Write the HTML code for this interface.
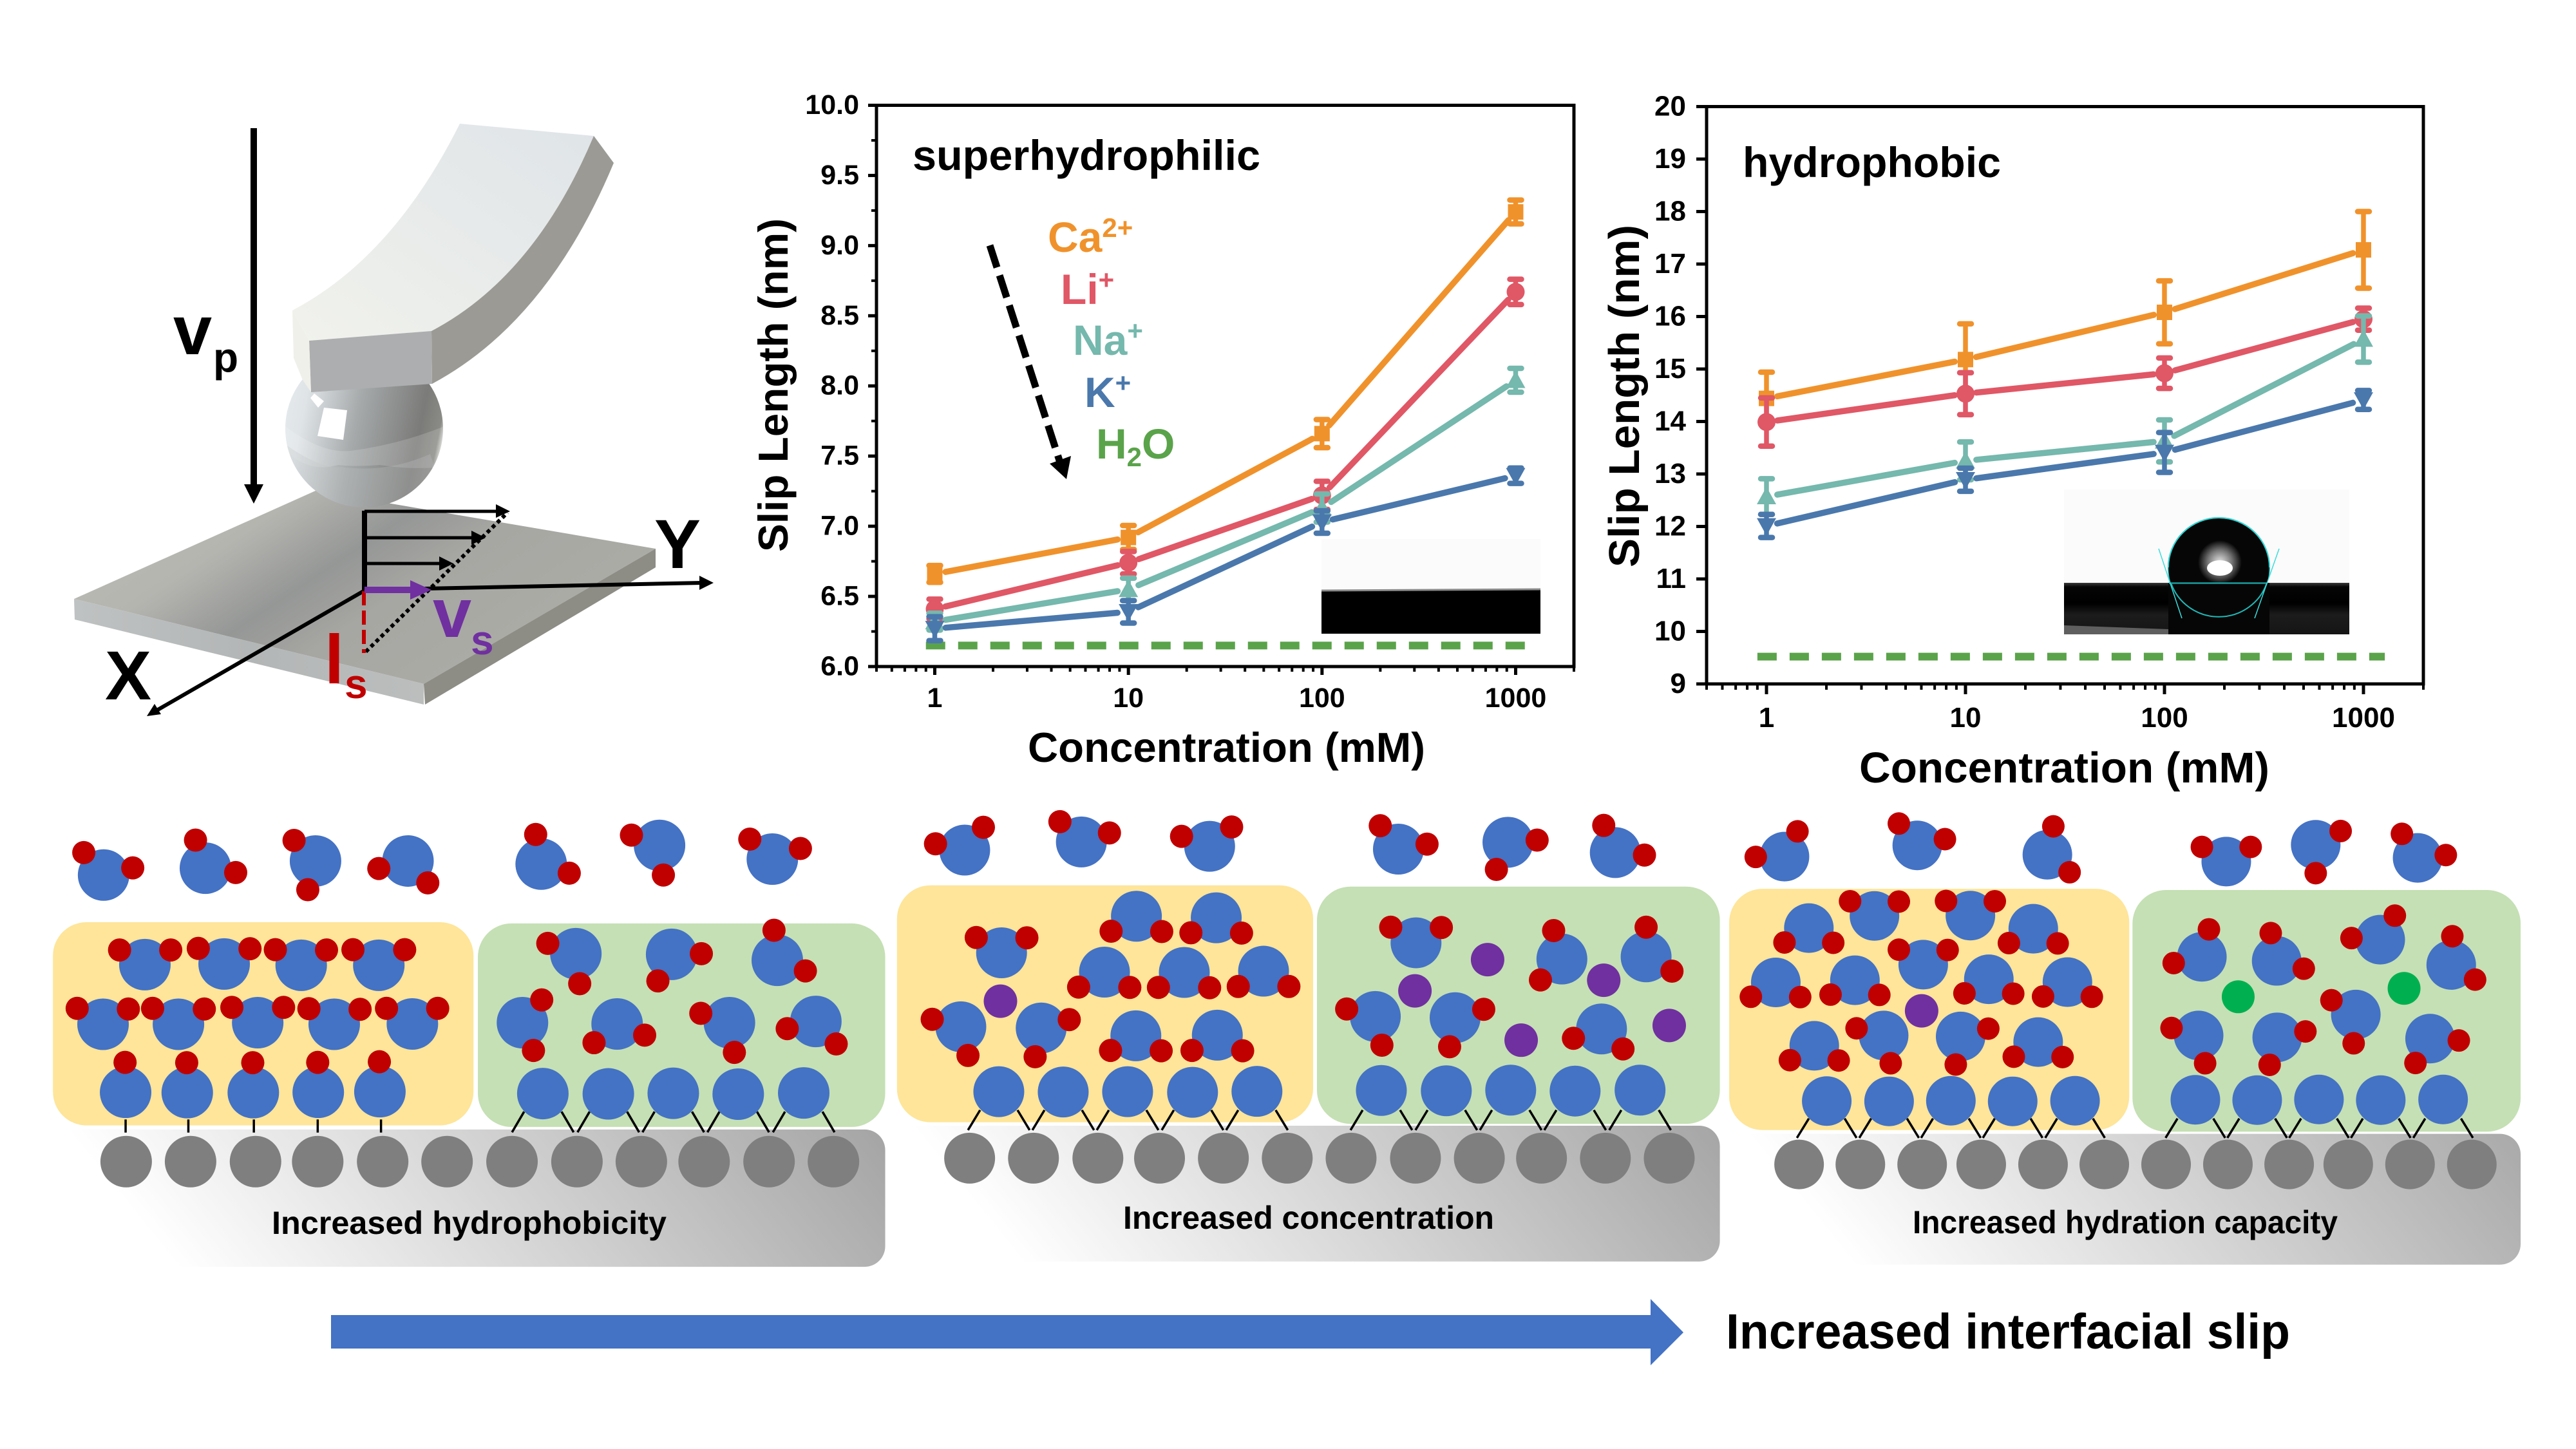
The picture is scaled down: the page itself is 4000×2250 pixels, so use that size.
<!DOCTYPE html>
<html lang="en">
<head>
<meta charset="utf-8">
<title>Interfacial slip figure</title>
<style>
html,body{margin:0;padding:0;background:#fff;}
svg{display:block;}
text{font-family:"Liberation Sans",Arial,sans-serif;font-weight:bold;fill:#000;}
</style>
</head>
<body>
<svg id="figure" xmlns="http://www.w3.org/2000/svg" width="4000" height="2250" viewBox="0 0 4000 2250">
<defs>
<linearGradient id="plateGrad" x1="0" y1="0.1" x2="1" y2="0.6"><stop offset="0" stop-color="#bdbdb7"/><stop offset="0.28" stop-color="#b5b5b0"/><stop offset="0.47" stop-color="#959796"/><stop offset="0.62" stop-color="#a6a6a2"/><stop offset="1" stop-color="#aeaea8"/></linearGradient>
<linearGradient id="plateFront" x1="0" y1="0" x2="1" y2="0"><stop offset="0" stop-color="#bfc2c2"/><stop offset="0.5" stop-color="#b3b6b6"/><stop offset="1" stop-color="#bcbebe"/></linearGradient>
<linearGradient id="beamTop" x1="0" y1="1" x2="1" y2="0"><stop offset="0" stop-color="#f1f2ec"/><stop offset="1" stop-color="#dfe4e8"/></linearGradient>
<linearGradient id="ballGrad" x1="0" y1="0.35" x2="1" y2="0.55"><stop offset="0" stop-color="#e4e9ec"/><stop offset="0.12" stop-color="#dfe4e7"/><stop offset="0.45" stop-color="#a6aaab"/><stop offset="0.85" stop-color="#7b7b79"/><stop offset="0.97" stop-color="#8a8a86"/><stop offset="1" stop-color="#cfcfca"/></linearGradient>
<clipPath id="ballClip"><circle cx="565.5" cy="665.5" r="122.5"/></clipPath>
<linearGradient id="baseGrad0" gradientUnits="userSpaceOnUse" x1="199" y1="1872.5" x2="979" y2="1242.5"><stop offset="0" stop-color="#ffffff"/><stop offset="1" stop-color="#a3a3a3"/></linearGradient>
<linearGradient id="baseGrad1" gradientUnits="userSpaceOnUse" x1="1510" y1="1864.5" x2="2290" y2="1234.5"><stop offset="0" stop-color="#ffffff"/><stop offset="1" stop-color="#a3a3a3"/></linearGradient>
<linearGradient id="baseGrad2" gradientUnits="userSpaceOnUse" x1="2802" y1="1869.5" x2="3582" y2="1239.5"><stop offset="0" stop-color="#ffffff"/><stop offset="1" stop-color="#a3a3a3"/></linearGradient>
<linearGradient id="hydroSubstrate" x1="0" y1="0" x2="0" y2="1"><stop offset="0" stop-color="#3a3a3a"/><stop offset="0.08" stop-color="#050505"/><stop offset="0.4" stop-color="#000"/><stop offset="0.62" stop-color="#1c1c1c"/><stop offset="1" stop-color="#151515"/></linearGradient>
<radialGradient id="dropGlow"><stop offset="0" stop-color="#fff" stop-opacity="0.9"/><stop offset="0.55" stop-color="#fff" stop-opacity="0.45"/><stop offset="1" stop-color="#fff" stop-opacity="0"/></radialGradient>
</defs>

<g>
<polygon points="115,930 490,762 1018,852 658,1062" fill="url(#plateGrad)"/>
<polygon points="115,930 658,1062 658,1094 116,962" fill="url(#plateFront)"/>
<polygon points="658,1062 1018,852 1018,881 660,1094" fill="#8d8c85"/>
<circle cx="565.5" cy="665.5" r="122.5" fill="url(#ballGrad)"/>
<g clip-path="url(#ballClip)">
<path d="M443,662 Q500,705 545,700 Q620,690 690,662 L690,725 Q640,730 590,722 Q550,725 525,722 Q480,735 443,700 Z" fill="#fff" opacity="0.16"/>
<path d="M443,690 Q500,730 530,725 Q600,735 668,705 L700,800 L430,800 Z" fill="#c2c4c4" opacity="0.28"/>
</g>
<polygon points="503,633 539,637 533,683 493,677" fill="#fff"/>
<polygon points="488,611 503,623 494,633 482,618" fill="#fff"/>
<path d="M714,192 L922,211 Q830,430 670,514 L480,529 L454,482 Q610,400 714,192 Z" fill="url(#beamTop)"/>
<path d="M922,211 L953,253 Q850,500 671,596 L670,514 Q830,430 922,211 Z" fill="#9b9a94"/>
<polygon points="480,529 670,514 671,596 483,609" fill="#adaeb0"/>
<polygon points="454,482 480,529 483,609 470,590 456,556" fill="#f0f0ea"/>

<line x1="394" y1="199" x2="394" y2="755" stroke="#000" stroke-width="10"/>
<polygon points="379,752 409,752 394,782" fill="#000"/>
<text x="269" y="550" font-size="108">v</text>
<text x="331" y="577" font-size="64">p</text>

<line x1="566" y1="793" x2="566" y2="916" stroke="#000" stroke-width="8"/>
<line x1="566" y1="794" x2="775" y2="794" stroke="#000" stroke-width="5"/>
<polygon points="770,783 792,794 770,804" fill="#000"/>
<line x1="566" y1="835" x2="735" y2="835" stroke="#000" stroke-width="5"/>
<polygon points="732,824 754,835 732,846" fill="#000"/>
<line x1="566" y1="875" x2="685" y2="875" stroke="#000" stroke-width="5"/>
<polygon points="682,864 704,875 682,886" fill="#000"/>
<line x1="568" y1="1012" x2="788" y2="796" stroke="#000" stroke-width="6" stroke-dasharray="6 5"/>
<line x1="566" y1="916" x2="1090" y2="905" stroke="#000" stroke-width="6"/>
<polygon points="1086,894 1108,905 1086,916" fill="#000"/>
<line x1="566" y1="917" x2="240" y2="1105" stroke="#000" stroke-width="6"/>
<polygon points="228,1112 240,1093 250,1109" fill="#000"/>
<line x1="565" y1="918" x2="565" y2="1014" stroke="#c00000" stroke-width="6" stroke-dasharray="22 8"/>
<line x1="566" y1="916" x2="645" y2="916" stroke="#7030a0" stroke-width="10"/>
<polygon points="637,901 670,916 637,931" fill="#7030a0"/>
<text x="1052" y="882" font-size="108" text-anchor="middle">Y</text>
<text x="199" y="1086" font-size="108" text-anchor="middle">X</text>
<text x="672" y="989" font-size="108" style="fill:#7030a0">v</text>
<text x="731" y="1016" font-size="64" style="fill:#7030a0">s</text>
<text x="504" y="1061" font-size="108" style="fill:#c00000">l</text>
<text x="535" y="1084" font-size="64" style="fill:#c00000">s</text>
</g>

<g id="chart-super">
<g id="super-inset">
<rect x="2052" y="837" width="340" height="79" fill="#fbfbfb"/>
<rect x="2052" y="916" width="340" height="68" fill="#000"/>
<line x1="2052" y1="917" x2="2392" y2="915" stroke="#8a8a8a" stroke-width="3"/>
</g>
<text x="1417" y="264" font-size="66" textLength="540" lengthAdjust="spacingAndGlyphs">superhydrophilic</text>
<text x="1627" y="391" font-size="66" style="fill:#f0922b">Ca<tspan font-size="42" dy="-23" style="fill:#f0922b">2+</tspan></text>
<text x="1647" y="472" font-size="66" style="fill:#e05766">Li<tspan font-size="42" dy="-23" style="fill:#e05766">+</tspan></text>
<text x="1666" y="551" font-size="66" style="fill:#75b8ad">Na<tspan font-size="42" dy="-23" style="fill:#75b8ad">+</tspan></text>
<text x="1684" y="632" font-size="66" style="fill:#4a78ac">K<tspan font-size="42" dy="-23" style="fill:#4a78ac">+</tspan></text>
<text x="1702" y="712" font-size="66" style="fill:#5aa34a">H<tspan font-size="42" dy="12" style="fill:#5aa34a">2</tspan><tspan dy="-12" style="fill:#5aa34a">O</tspan></text>
<line x1="1537" y1="381" x2="1646" y2="718" stroke="#000" stroke-width="11" stroke-dasharray="36 13"/>
<polygon points="1630,720 1663,708 1656,744" fill="#000"/>
<text x="1596" y="1183" font-size="65" textLength="617" lengthAdjust="spacingAndGlyphs">Concentration (mM)</text>
<text transform="translate(1223,857) rotate(-90)" font-size="65" textLength="518" lengthAdjust="spacingAndGlyphs">Slip Length (nm)</text>
</g>

<g id="chart-hydro">
<g id="hydro-inset">
<rect x="3205" y="760" width="443" height="146" fill="#fbfbfb"/>
<rect x="3205" y="905" width="443" height="80" fill="url(#hydroSubstrate)"/>
<polygon points="3205,971 3367,977 3367,985 3205,985" fill="#5f5f5f"/>
<rect x="3367" y="905" width="157" height="80" fill="#060606"/>
<ellipse cx="3445.5" cy="881" rx="78.5" ry="77" fill="#060606" fill-opacity="0.7" stroke="#1fb8b8" stroke-width="2"/>
<circle cx="3445.5" cy="883" r="78" fill="#060606"/>
<rect x="3368" y="906" width="155" height="79" fill="#060606"/>
<path d="M3367,881 A78.5,77 0 0 1 3524,881" fill="none" stroke="#2fd5d5" stroke-width="2"/>
<path d="M3371,905 A78.5,77 0 0 0 3520,905" fill="none" stroke="#1fb8b8" stroke-width="2"/>
<ellipse cx="3447" cy="873" rx="34" ry="34" fill="url(#dropGlow)"/>
<ellipse cx="3447" cy="882" rx="20" ry="12" fill="#fff"/>
<line x1="3368" y1="905.5" x2="3521" y2="905.5" stroke="#1a9c9c" stroke-width="2.5"/>
<line x1="3352" y1="852" x2="3388" y2="960" stroke="#3cdcdc" stroke-width="1.5"/>
<line x1="3539" y1="852" x2="3501" y2="960" stroke="#3cdcdc" stroke-width="1.5"/>
</g>
<text x="2706" y="275" font-size="66" textLength="401" lengthAdjust="spacingAndGlyphs">hydrophobic</text>
<text x="2887" y="1215" font-size="67" textLength="637" lengthAdjust="spacingAndGlyphs">Concentration (mM)</text>
<text transform="translate(2545,881) rotate(-90)" font-size="67" textLength="532" lengthAdjust="spacingAndGlyphs">Slip Length (nm)</text>
</g>

<g id="diagrams"></g>
<text x="422" y="1916" font-size="50" textLength="613" lengthAdjust="spacingAndGlyphs">Increased hydrophobicity</text>
<text x="1744" y="1908" font-size="50" textLength="576" lengthAdjust="spacingAndGlyphs">Increased concentration</text>
<text x="2970" y="1915" font-size="50" textLength="660" lengthAdjust="spacingAndGlyphs">Increased hydration capacity</text>

<polygon points="514,2042 2563,2042 2563,2017 2614,2069 2563,2120 2563,2094 514,2094" fill="#4472c4"/>
<text x="2680" y="2094" font-size="77" textLength="876" lengthAdjust="spacingAndGlyphs">Increased interfacial slip</text>
</svg>

<script>
/* ---------- chart data ---------- */
const concentrations = [1, 10, 100, 1000];
const concentrationTicks = ['1', '10', '100', '1000'];
const minorConcentrations = [0.5,0.6,0.7,0.8,0.9,2,3,4,5,6,7,8,9,20,30,40,50,60,70,80,90,200,300,400,500,600,700,800,900,2000];
const waterSpan = [0.9, 1280];

const superYTicks = ['6.0','6.5','7.0','7.5','8.0','8.5','9.0','9.5','10.0'];
const superYMinor = [6.25,6.75,7.25,7.75,8.25,8.75,9.25,9.75];
const superCa = [6.66, 6.92, 7.66, 9.24];
const superCaErr = [0.06, 0.085, 0.1, 0.085];
const superLi = [6.41, 6.74, 7.22, 8.67];
const superLiErr = [0.07, 0.08, 0.1, 0.09];
const superNa = [6.32, 6.55, 7.13, 8.04];
const superNaErr = [0.06, 0.08, 0.1, 0.085];
const superK = [6.27, 6.39, 7.03, 7.36];
const superKErr = [0.085, 0.08, 0.08, 0.055];
const superWater = 6.15;

const hydroYTicks = ['9','10','11','12','13','14','15','16','17','18','19','20'];
const hydroYMinor = [];
const hydroCa = [14.44, 15.18, 16.08, 17.27];
const hydroCaErr = [0.5, 0.68, 0.6, 0.73];
const hydroLi = [13.99, 14.53, 14.92, 15.95];
const hydroLiErr = [0.46, 0.4, 0.29, 0.21];
const hydroNa = [12.57, 13.25, 13.63, 15.57];
const hydroNaErr = [0.34, 0.36, 0.4, 0.44];
const hydroK = [12.01, 12.89, 13.41, 14.41];
const hydroKErr = [0.22, 0.22, 0.38, 0.18];
const hydroWater = 9.52;

/* ---------- helpers ---------- */
const NS = 'http://www.w3.org/2000/svg';
function make(parent, tag, attrs) {
  const el = document.createElementNS(NS, tag);
  for (const k in attrs) el.setAttribute(k, attrs[k]);
  parent.appendChild(el);
  return el;
}

/* ---------- chart drawing ---------- */
const ionColors = {ca:'#f0922b', li:'#e05766', na:'#75b8ad', k:'#4a78ac'};
const water = '#5aa34a';

function drawChart(parentId, box, labelAnchor, labelFont, xLabelY, yTicks, yMinor, series, waterValue, majorLen, minorLen) {
  const parent = document.getElementById(parentId);
  const yLo = parseFloat(yTicks[0]);
  const yHi = parseFloat(yTicks[yTicks.length - 1]);
  const xLo = Math.log10(0.5);
  const xHi = Math.log10(2000);
  const xScale = v => box.left + (Math.log10(v) - xLo) / (xHi - xLo) * (box.right - box.left);
  const yScale = v => box.bottom - (v - yLo) / (yHi - yLo) * (box.bottom - box.top);

  const frame = make(parent, 'rect', {x:box.left, y:box.top, width:box.right-box.left, height:box.bottom-box.top, fill:'none', stroke:'#000', 'stroke-width':5});
  
  

  yTicks.forEach(label => {
    const v = parseFloat(label);
    const tick = make(parent, 'line', {x1:box.left-majorLen, x2:box.left, y1:yScale(v), y2:yScale(v), stroke:'#000', 'stroke-width':5});
    
    
    const text = make(parent, 'text', {x:labelAnchor, y:yScale(v)+labelFont*0.36-2, 'font-size':labelFont, 'text-anchor':'end'});
    
    
    text.textContent = label;
  });
  yMinor.forEach(v => {
    const tick = make(parent, 'line', {x1:box.left-minorLen, x2:box.left, y1:yScale(v), y2:yScale(v), stroke:'#000', 'stroke-width':4});
    
    
  });
  concentrationTicks.forEach(label => {
    const v = parseFloat(label);
    const tick = make(parent, 'line', {x1:xScale(v), x2:xScale(v), y1:box.bottom, y2:box.bottom+majorLen, stroke:'#000', 'stroke-width':5});
    
    
    const text = make(parent, 'text', {x:xScale(v), y:xLabelY, 'font-size':labelFont, 'text-anchor':'middle'});
    
    
    text.textContent = label;
  });
  minorConcentrations.forEach(v => {
    const tick = make(parent, 'line', {x1:xScale(v), x2:xScale(v), y1:box.bottom, y2:box.bottom+minorLen, stroke:'#000', 'stroke-width':4});
    
    
  });

  const waterLine = make(parent, 'line', {x1:xScale(waterSpan[0]), x2:xScale(waterSpan[1]), y1:yScale(waterValue), y2:yScale(waterValue), stroke:water, 'stroke-width':12, 'stroke-dasharray':'30 20'});
  
  

  const gap = 17;
  series.forEach(s => {
    const color = ionColors[s.key];
    const group = make(parent, 'g', {});
    
    
    const pts = concentrations.map((c, i) => [xScale(c), yScale(s.values[i])]);
    for (let i = 0; i < pts.length - 1; i++) {
      const dx = pts[i+1][0] - pts[i][0];
      const dy = pts[i+1][1] - pts[i][1];
      const len = Math.hypot(dx, dy);
      const seg = make(group, 'line', {x1:pts[i][0]+dx/len*gap, y1:pts[i][1]+dy/len*gap, x2:pts[i+1][0]-dx/len*gap, y2:pts[i+1][1]-dy/len*gap, stroke:color, 'stroke-width':9.5, 'stroke-linecap':'round'});
      
      
    }
    pts.forEach((p, i) => {
      const hi = yScale(s.values[i] + s.errors[i]);
      const lo = yScale(s.values[i] - s.errors[i]);
      const bar = make(group, 'line', {x1:p[0], x2:p[0], y1:hi, y2:lo, stroke:color, 'stroke-width':7.5});
      
      
      [hi, lo].forEach(yy => {
        const cap = make(group, 'line', {x1:p[0]-9, x2:p[0]+9, y1:yy, y2:yy, stroke:color, 'stroke-width':8.5, 'stroke-linecap':'round'});
        
        
      });
      let mark;
      if (s.key === 'ca') {
        mark = make(group, 'rect', {x:p[0]-12, y:p[1]-12, width:24, height:24, fill:color});
      } else if (s.key === 'li') {
        mark = make(group, 'circle', {cx:p[0], cy:p[1], r:14, fill:color});
      } else if (s.key === 'na') {
        mark = make(group, 'polygon', {points:(p[0]-15)+','+(p[1]+12)+' '+(p[0]+15)+','+(p[1]+12)+' '+p[0]+','+(p[1]-15), fill:color});
      } else {
        mark = make(group, 'polygon', {points:(p[0]-15)+','+(p[1]-12)+' '+(p[0]+15)+','+(p[1]-12)+' '+p[0]+','+(p[1]+15), fill:color});
      }
      
      
    });
  });
}

drawChart('chart-super', {left:1361, right:2444, top:163.5, bottom:1035}, 1334, 43, 1098, superYTicks, superYMinor, [
  {key:'ca', values:superCa, errors:superCaErr},
  {key:'li', values:superLi, errors:superLiErr},
  {key:'na', values:superNa, errors:superNaErr},
  {key:'k', values:superK, errors:superKErr}
], superWater, 13, 8);

drawChart('chart-hydro', {left:2650, right:3763, top:165.5, bottom:1062}, 2618, 44, 1129, hydroYTicks, hydroYMinor, [
  {key:'ca', values:hydroCa, errors:hydroCaErr},
  {key:'li', values:hydroLi, errors:hydroLiErr},
  {key:'na', values:hydroNa, errors:hydroNaErr},
  {key:'k', values:hydroK, errors:hydroKErr}
], hydroWater, 16, 9);

/* ---------- molecular diagram layout ---------- */
const diagramPanels = [
  { name:'hydrophobicity', ox:60, oy:1240, fx:1.170, fy:2.063, b:40, r:18,
    yellow:[26,396,790,1047], green:[798,400,1538,1052], base:[26,1060,1538,1500],
    grayY:1163, gray:[159,276,394,507,625,742,860,978,1095,1209,1327,1444],
    water:[[118,245,82,173,171,222],[303,223,285,133,358,237],[503,200,464,134,489,292],[671,200,618,224,707,270],[913,210,903,115,964,239],[1128,150,1077,117,1135,245],[1333,194,1292,130,1384,160],
      [193,532,147,485,240,485],[337,530,290,480,384,481],[477,534,430,484,523,485],[618,534,571,484,665,484],
      [117,723,70,672,163,674],[254,723,207,672,301,674],[398,718,351,669,445,669],[537,723,491,673,584,675],[679,722,632,672,725,672],
      [976,497,925,464,983,593],[1150,499,1204,497,1125,584],[1342,518,1336,422,1393,552],[879,718,914,645,899,807],[1051,722,1101,758,1009,782],[1255,718,1203,688,1264,813],[1412,714,1360,737,1449,786]],
    single:[[158,941,157,845],[270,942,269,846],[390,942,389,846],[508,941,507,845],[620,939,619,843]],
    bound:[[916,945],[1035,946],[1153,944],[1271,947],[1390,943]],
    legs:[34,1003,56,1069], straight:[[158,1028,1070],[272,1028,1070],[391,1028,1070],[507,1028,1070],[622,1028,1070]],
    boundLegs:[[916],[1035],[1153],[1271],[1390]], purple:[], ions:[] },
  { name:'concentration', ox:1380, oy:1240, fx:1.170, fy:2.063, b:39.5, r:18,
    yellow:[15,278,771,1037], green:[778,282,1510,1042], base:[15,1048,1510,1483],
    grayY:1152, gray:[147,263,380,492,608,724,840,957,1073,1186,1302,1418],
    water:[[138,165,85,145,172,92],[350,139,311,74,401,110],[583,153,532,121,623,91],[926,162,893,87,978,146],[1125,140,1178,133,1104,227],[1320,173,1299,86,1373,181],
      [205,494,159,445,251,446],[450,377,404,425,496,426],[595,382,549,430,641,431],[392,556,345,604,438,605],[537,557,490,605,583,606],[681,553,635,602,727,602],[131,731,79,707,144,823],[277,735,328,708,266,827],[449,760,403,807,495,808],[597,758,551,807,643,808],
      [958,462,912,412,1004,413],[1223,514,1208,423,1184,581],[1376,507,1376,412,1423,553],[884,698,832,674,896,790],[1029,702,1081,675,1019,795],[1295,738,1244,768,1334,802]],
    single:[],
    bound:[[200,939],[317,940],[434,939],[552,941],[669,938],[895,935],[1013,936],[1130,934],[1247,937],[1365,934]],
    legs:[34,998,56,1062], straight:[],
    boundLegs:[[200],[317],[434],[552],[669],[895],[1013],[1130],[1247],[1365]],
    purple:[[203,649],[1088,516],[1299,582],[956,616],[1149,774],[1418,727]], ions:[] },
  { name:'hydration-capacity', ox:2680, oy:1240, fx:1.188, fy:2.063, b:38.5, r:17.5,
    yellow:[6,289,744,1062], green:[750,293,1466,1067], base:[6,1074,1466,1493],
    grayY:1172, gray:[135,248,362,471,585,698,812,926,1039,1148,1262,1376],
    water:[[108,186,55,187,132,105],[353,150,319,80,404,130],[593,180,604,89,634,236],[923,202,878,155,968,155],[1088,148,1134,104,1088,239],[1276,190,1247,113,1328,181],
      [153,415,108,461,198,462],[274,376,229,329,319,330],[451,375,406,328,496,329],[567,417,522,463,612,464],[364,532,319,484,409,485],[92,589,46,635,137,636],[238,582,193,628,283,629],[485,579,440,624,530,625],[630,588,585,634,675,635],[291,759,241,736,304,848],[433,762,484,737,424,852],[163,792,118,838,208,839],[576,780,531,827,621,828],
      [878,507,891,419,826,527],[1016,520,1005,431,1066,545],[1207,452,1234,375,1154,447],[1338,533,1340,441,1382,580],[1162,692,1117,646,1158,784],[872,759,822,735,884,848],[1017,765,1069,746,1003,853],[1299,769,1352,775,1272,847]],
    single:[],
    bound:[[186,969],[301,970],[415,968],[529,970],[644,968],[866,965],[980,966],[1094,964],[1208,966],[1323,964]],
    legs:[33,1025,55,1087], straight:[],
    boundLegs:[[186],[301],[415],[529],[644],[866],[980],[1094],[1208],[1323]],
    purple:[[361,680]], ions:[[945,635],[1251,608]] }
];

const diagrams = document.getElementById('diagrams');
diagramPanels.forEach((p, panelIndex) => {
  const X = v => p.ox + v / p.fx;
  const Y = v => p.oy + v / p.fy;
  const g = make(diagrams, 'g', {});
  
  

  const base = make(g, 'rect', {x:X(p.base[0]), y:Y(p.base[1]), width:(p.base[2]-p.base[0])/p.fx, height:(p.base[3]-p.base[1])/p.fy, rx:32, ry:32, fill:'url(#baseGrad' + panelIndex + ')'});
  
  

  const yellow = make(g, 'rect', {x:X(p.yellow[0]), y:Y(p.yellow[1]), width:(p.yellow[2]-p.yellow[0])/p.fx, height:(p.yellow[3]-p.yellow[1])/p.fy, rx:52, ry:52, fill:'#fee599'});
  
  

  const green = make(g, 'rect', {x:X(p.green[0]), y:Y(p.green[1]), width:(p.green[2]-p.green[0])/p.fx, height:(p.green[3]-p.green[1])/p.fy, rx:52, ry:52, fill:'#c5e0b4'});
  
  

  p.gray.forEach(x => {
    const atom = make(g, 'circle', {cx:X(x), cy:Y(p.grayY), r:p.b, fill:'#7f7f7f'});
    
    
  });

  p.straight.forEach(s => {
    const link = make(g, 'line', {x1:X(s[0]), x2:X(s[0]), y1:Y(s[1]), y2:Y(s[2]), stroke:'#000', 'stroke-width':3.5});
    
    
  });
  p.boundLegs.forEach(b => {
    [-1, 1].forEach(side => {
      const link = make(g, 'line', {x1:X(b[0]+side*p.legs[0]), y1:Y(p.legs[1]), x2:X(b[0]+side*p.legs[2]), y2:Y(p.legs[3]), stroke:'#000', 'stroke-width':3.5});
      
      
    });
  });

  p.bound.forEach(b => {
    const atom = make(g, 'circle', {cx:X(b[0]), cy:Y(b[1]), r:p.b, fill:'#4472c4'});
    
    
  });
  p.single.forEach(m => {
    const atom = make(g, 'circle', {cx:X(m[0]), cy:Y(m[1]), r:p.b, fill:'#4472c4'});
    
    
    const h = make(g, 'circle', {cx:X(m[2]), cy:Y(m[3]), r:p.r, fill:'#c00000'});
    
    
  });
  p.water.forEach(m => {
    const mol = make(g, 'g', {});
    
    
    const o = make(mol, 'circle', {cx:X(m[0]), cy:Y(m[1]), r:p.b, fill:'#4472c4'});
    
    
    const h1 = make(mol, 'circle', {cx:X(m[2]), cy:Y(m[3]), r:p.r, fill:'#c00000'});
    
    
    const h2 = make(mol, 'circle', {cx:X(m[4]), cy:Y(m[5]), r:p.r, fill:'#c00000'});
    
    
  });
  p.purple.forEach(c => {
    const ion = make(g, 'circle', {cx:X(c[0]), cy:Y(c[1]), r:26, fill:'#7030a0'});
    
    
  });
  p.ions.forEach(c => {
    const ion = make(g, 'circle', {cx:X(c[0]), cy:Y(c[1]), r:25.5, fill:'#00b050'});
    
    
  });
});
</script>
</body>
</html>
